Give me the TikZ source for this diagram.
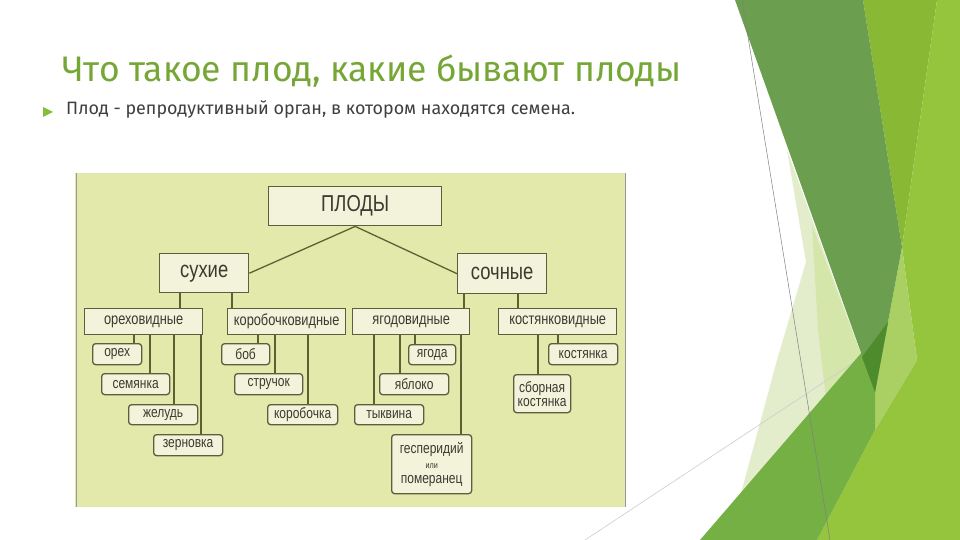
\documentclass[tikz,border=0pt]{standalone}
\usepackage{fontspec}
\setmainfont{Fira Sans}
\newfontfamily\titlefont{Fira Sans}
\newfontfamily\narrowfont[FakeStretch=0.8]{Liberation Sans}
\definecolor{titlegreen}{HTML}{76A736}
\definecolor{bodygray}{HTML}{3F3F3F}
\definecolor{bulletgreen}{HTML}{86BD3A}
\definecolor{diagbg}{HTML}{E2E9AA}
\definecolor{boxfill}{HTML}{F2F3DA}
\definecolor{boxline}{HTML}{5A5F3E}
\definecolor{boxtext}{HTML}{3A3A30}
\definecolor{connc}{HTML}{5B6133}
\definecolor{darkband}{HTML}{6B9E4E}
\definecolor{darkov}{HTML}{4E8B2C}
\definecolor{rone}{HTML}{89B934}
\definecolor{rtwo}{HTML}{95C43D}
\definecolor{lgreen}{HTML}{AACF63}
\definecolor{mgreen}{HTML}{74B043}
\definecolor{lone}{HTML}{E3EDCC}
\definecolor{ltwo}{HTML}{D5E6AB}
\begin{document}
\begin{tikzpicture}[x=1pt,y=-1pt,
  bigbox/.style={draw=boxline, line width=1.4pt, fill=boxfill, inner sep=0pt, anchor=north west, text=boxtext},
  leafbox/.style={draw=boxline, line width=1.3pt, fill=boxfill, inner sep=0pt, anchor=north west, text=boxtext, rounded corners=3pt, minimum height=21pt, font=\narrowfont\fontsize{15}{16}\selectfont},
  midbox/.style={bigbox, minimum height=26pt, font=\narrowfont\fontsize{16}{18}\selectfont},
  topbox/.style={bigbox, minimum height=39pt, font=\narrowfont\fontsize{23}{26}\selectfont},
  conn/.style={draw=connc, line width=1.3pt}]
\useasboundingbox (0,0) rectangle (960,540);
\fill[white] (0,0) rectangle (960,540);
% decoration
\fill[lone] (787,150) -- (862,357) -- (740,497) -- (777,360) -- (806,262) -- cycle;
\fill[ltwo] (812,225) -- (862,357) -- (826,398) -- (818,330) -- cycle;
\draw[color=black!20, line width=0.6pt] (585,540) -- (862,357);
\fill[rone] (863,0) -- (937,0) -- (902,247) -- cycle;
\fill[rtwo] (937,0) -- (960,0) -- (960,540) -- (817,540) -- (875,430) -- (917,360) -- (902,247) -- cycle;
\fill[lgreen] (902,247) -- (917,360) -- (875,430) -- (875,392) -- cycle;
\fill[mgreen] (700,540) -- (888,322) -- (875,392) -- (875,430) -- (817,540) -- cycle;
\fill[darkband] (735,0) -- (863,0) -- (902,247) -- (875,392) -- cycle;
\fill[darkov] (862,357) -- (888,322) -- (875,392) -- cycle;
\draw[color=black!50, line width=0.5pt] (742,0) -- (830,540);
% title and text
\node[anchor=base west, text=titlegreen, font=\titlefont\fontsize{35.5}{40}\selectfont, inner sep=0pt] (title) at (62,82) {Что такое плод, какие бывают плоды};
\fill[bulletgreen] (43,107) -- (43,117) -- (53,112) -- cycle;
\node[anchor=base west, text=bodygray, font=\fontsize{17.9}{20}\selectfont, inner sep=0pt] (body) at (66,115) {Плод - репродуктивный орган, в котором находятся семена.};
% diagram background
\fill[diagbg] (75,173) rectangle (625,507);
\draw[color=black!40, line width=0.8pt] (76,173) -- (76,507);
\draw[color=black!40, line width=0.6pt] (625,173) -- (625,507);
% boxes
\node[topbox, minimum width=173pt] (plody) at (268,186) {ПЛОДЫ};
\node[topbox, minimum width=89pt] (sukhie) at (159,253) {сухие};
\node[topbox, minimum width=89pt, minimum height=40pt] (sochnye) at (457,253) {сочные};
\node[midbox, minimum width=118pt] (orv) at (84,308) {ореховидные};
\node[midbox, minimum width=118pt] (kbv) at (227,308) {коробочковидные};
\node[midbox, minimum width=117pt] (yav) at (352,308) {ягодовидные};
\node[midbox, minimum width=118pt] (kov) at (498,308) {костянковидные};
\node[leafbox, minimum width=49pt] (orekh) at (92,343) {орех};
\node[leafbox, minimum width=68pt] (semyanka) at (101,373) {семянка};
\node[leafbox, minimum width=69pt, minimum height=20pt] (zhelud) at (128,404) {желудь};
\node[leafbox, minimum width=69pt] (zernovka) at (153,434) {зерновка};
\node[leafbox, minimum width=48pt] (bob) at (221,343) {боб};
\node[leafbox, minimum width=68pt] (struchok) at (234,373) {стручок};
\node[leafbox, minimum width=70pt, minimum height=20pt] (korobochka) at (267,404) {коробочка};
\node[leafbox, minimum width=47pt, minimum height=20pt] (yagoda) at (408,344) {ягода};
\node[leafbox, minimum width=69pt] (yabloko) at (379,373) {яблоко};
\node[leafbox, minimum width=69pt, minimum height=20pt] (tykvina) at (354,404) {тыквина};
\node[leafbox, minimum width=80pt, minimum height=59pt, align=center] (gesp) at (391,434) {гесперидий\\[-1pt]{\fontsize{9}{10}\selectfont или}\\[-1pt]померанец};
\node[leafbox, minimum width=69pt] (kostyanka) at (548,343) {костянка};
\node[leafbox, minimum width=57pt, minimum height=38pt, align=center] (sbornaya) at (513,374) {сборная\\[-2pt]костянка};
% connectors
\draw[conn] (plody.south) -- (sukhie.east);
\draw[conn] (plody.south) -- (sochnye.west);
\draw[conn] ([xshift=21pt]sukhie.south west) -- ([xshift=96pt]orv.north west);
\draw[conn] ([xshift=73pt]sukhie.south west) -- ([xshift=5pt]kbv.north west);
\draw[conn] ([xshift=7pt]sochnye.south west) -- ([xshift=112pt]yav.north west);
\draw[conn] ([xshift=61pt]sochnye.south west) -- ([xshift=20pt]kov.north west);
\draw[conn] ([xshift=50pt]orv.south west) -- ([xshift=42pt]orekh.north west);
\draw[conn] ([xshift=66pt]orv.south west) -- ([xshift=49pt]semyanka.north west);
\draw[conn] ([xshift=90pt]orv.south west) -- ([xshift=46pt]zhelud.north west);
\draw[conn] ([xshift=117pt]orv.south west) -- ([xshift=48pt]zernovka.north west);
\draw[conn] ([xshift=31pt]kbv.south west) -- ([xshift=37pt]bob.north west);
\draw[conn] ([xshift=48pt]kbv.south west) -- ([xshift=41pt]struchok.north west);
\draw[conn] ([xshift=81pt]kbv.south west) -- ([xshift=41pt]korobochka.north west);
\draw[conn] ([xshift=63pt]yav.south west) -- ([xshift=7pt]yagoda.north west);
\draw[conn] ([xshift=48pt]yav.south west) -- ([xshift=21pt]yabloko.north west);
\draw[conn] ([xshift=22pt]yav.south west) -- ([xshift=20pt]tykvina.north west);
\draw[conn] ([xshift=109pt]yav.south west) -- ([xshift=70pt]gesp.north west);
\draw[conn] ([xshift=60pt]kov.south west) -- ([xshift=10pt]kostyanka.north west);
\draw[conn] ([xshift=40pt]kov.south west) -- ([xshift=25pt]sbornaya.north west);
\end{tikzpicture}
\end{document}
